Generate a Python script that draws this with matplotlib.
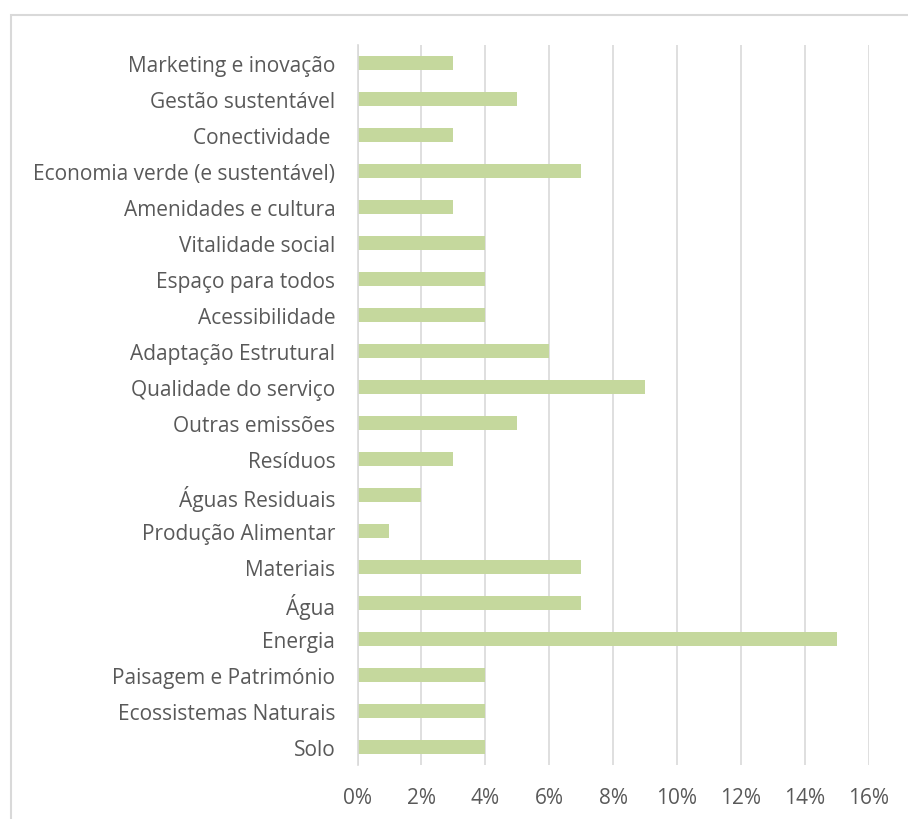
import matplotlib.pyplot as plt
from matplotlib.patches import Rectangle
from matplotlib.ticker import PercentFormatter

# categories from bottom to top
categories = ['Solo', 'Ecossistemas Naturais', 'Paisagem e Património', 'Energia',
              'Água', 'Materiais', 'Produção Alimentar', 'Águas Residuais',
              'Resíduos', 'Outras emissões', 'Qualidade do serviço',
              'Adaptação Estrutural', 'Acessibilidade', 'Espaço para todos',
              'Vitalidade social', 'Amenidades e cultura',
              'Economia verde (e sustentável)', 'Conectividade ',
              'Gestão sustentável', 'Marketing e inovação']
values = [4, 4, 4, 15, 7, 7, 1, 2, 3, 5, 9, 6, 4, 4, 4, 3, 7, 3, 5, 3]
xticks = [0, 2, 4, 6, 8, 10, 12, 14, 16]

text_color = '#595959'
plt.rcParams['font.family'] = ['Open Sans', 'DejaVu Sans']

fig = plt.figure(figsize=(9.08, 8.2), dpi=100)
fig.patches.append(Rectangle((11 / 908, -0.1), 1.2, 1 - 16 / 820 + 0.1,
                             transform=fig.transFigure, fill=False,
                             edgecolor='#D9D9D9', linewidth=1.5))

ax = fig.add_axes([357.5 / 908, 1 - 766 / 820, 511 / 908, 720 / 820])
ax.barh(range(len(categories)), values, height=0.39, color='#C5D89D', zorder=2)

ax.set_xlim(0, 16)
ax.set_ylim(-0.5, len(categories) - 0.5)
ax.set_xticks(xticks)
ax.xaxis.set_major_formatter(PercentFormatter(decimals=0))
ax.set_yticks(range(len(categories)))
ax.set_yticklabels(categories)
ax.grid(axis='x', color='#D9D9D9', linewidth=1.2, zorder=0)
ax.tick_params(length=0, colors=text_color, labelsize=15)
ax.tick_params(axis='x', pad=16)
ax.tick_params(axis='y', pad=16)
for side in ['top', 'right', 'bottom']:
    ax.spines[side].set_visible(False)
ax.spines['left'].set_color('#D9D9D9')
ax.spines['left'].set_linewidth(1.2)

fig.savefig('out.png', dpi=100)
